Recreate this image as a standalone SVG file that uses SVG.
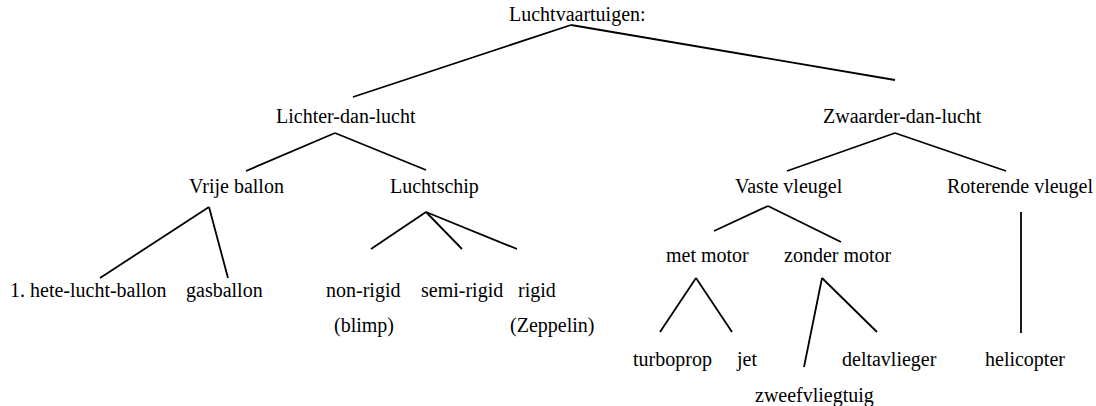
<svg xmlns="http://www.w3.org/2000/svg" width="1096" height="406" viewBox="0 0 1096 406">
  <style>
    text { font-family: "Liberation Serif", "Times New Roman", serif; font-size: 20px; fill: #000; }
    .edge { stroke: #000; stroke-width: 1.8; fill: none; stroke-linecap: butt; }
  </style>
  <rect width="1096" height="406" fill="#fff"/>

  <!-- connectors of the classification tree -->
  <g id="connectors">
    <line class="edge" x1="571" y1="25" x2="353" y2="97"/>
    <line class="edge" x1="571" y1="25" x2="895" y2="80"/>
    <line class="edge" x1="335" y1="133" x2="246" y2="171"/>
    <line class="edge" x1="335" y1="133" x2="426" y2="170"/>
    <line class="edge" x1="895" y1="133" x2="787" y2="171"/>
    <line class="edge" x1="895" y1="133" x2="1006" y2="171"/>
    <line class="edge" x1="209" y1="207" x2="100" y2="278"/>
    <line class="edge" x1="209" y1="207" x2="228" y2="278"/>
    <line class="edge" x1="426" y1="212" x2="371" y2="249"/>
    <line class="edge" x1="426" y1="212" x2="462" y2="249"/>
    <line class="edge" x1="426" y1="212" x2="517" y2="249"/>
    <line class="edge" x1="768" y1="206" x2="714" y2="231"/>
    <line class="edge" x1="768" y1="206" x2="841" y2="242"/>
    <line class="edge" x1="696" y1="278" x2="660" y2="332"/>
    <line class="edge" x1="696" y1="278" x2="732" y2="332"/>
    <line class="edge" x1="822" y1="278" x2="804" y2="367"/>
    <line class="edge" x1="822" y1="278" x2="877" y2="332"/>
    <line class="edge" x1="1021" y1="212" x2="1021" y2="333"/>
  </g>

  <g id="root"><text x="509" y="21">Luchtvaartuigen:</text></g>
  <g id="lichter"><text x="276" y="123">Lichter-dan-lucht</text></g>
  <g id="zwaarder"><text x="823" y="123">Zwaarder-dan-lucht</text></g>

  <g id="vrije-ballon"><text x="189" y="193">Vrije ballon</text></g>
  <g id="luchtschip"><text x="390" y="193">Luchtschip</text></g>
  <g id="vaste-vleugel"><text x="735" y="193">Vaste vleugel</text></g>
  <g id="roterende-vleugel"><text x="947" y="193">Roterende vleugel</text></g>

  <g id="hete-lucht-ballon"><text x="10" y="297">1. hete-lucht-ballon</text></g>
  <g id="gasballon"><text x="186" y="297">gasballon</text></g>

  <g id="non-rigid">
    <text x="326" y="297">non-rigid</text>
    <text x="334" y="332">(blimp)</text>
  </g>
  <g id="semi-rigid"><text x="421" y="297">semi-rigid</text></g>
  <g id="rigid">
    <text x="518" y="297">rigid</text>
    <text x="510" y="332">(Zeppelin)</text>
  </g>

  <g id="met-motor"><text x="666" y="262">met motor</text></g>
  <g id="zonder-motor"><text x="784" y="262">zonder motor</text></g>

  <g id="turboprop"><text x="633" y="366">turboprop</text></g>
  <g id="jet"><text x="737" y="366">jet</text></g>
  <g id="deltavlieger"><text x="842" y="366">deltavlieger</text></g>
  <g id="zweefvliegtuig"><text x="755" y="402">zweefvliegtuig</text></g>
  <g id="helicopter"><text x="985" y="366">helicopter</text></g>
</svg>
